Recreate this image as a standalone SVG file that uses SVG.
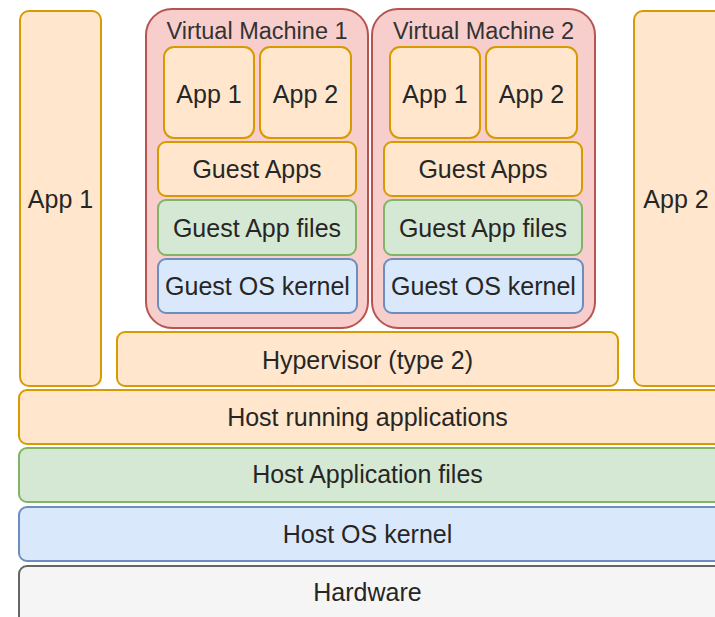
<svg xmlns="http://www.w3.org/2000/svg" width="715" height="617" viewBox="0 0 715 617">
  <style>
    rect { stroke-width: 2; }
    .orange { fill: #ffe6cc; stroke: #d79b00; }
    .green { fill: #d5e8d4; stroke: #82b366; }
    .blue { fill: #dae8fc; stroke: #6c8ebf; }
    .red { fill: #f8cecc; stroke: #b85450; }
    .gray { fill: #f5f5f5; stroke: #666666; }
    text { font-family: "Liberation Sans", Arial, sans-serif; font-size: 25px; fill: #262626; text-anchor: middle; }
    .title { font-size: 23.5px; fill: #333333; }
  </style>
  <rect width="715" height="617" fill="#ffffff" stroke="none"/>

  <!-- native apps on the host -->
  <g id="host-app1">
    <rect class="orange" x="20" y="11" width="81" height="375" rx="9"/>
    <text x="60.5" y="208">App 1</text>
  </g>
  <g id="host-app2">
    <rect class="orange" x="634" y="11" width="90" height="375" rx="9"/>
    <text x="676" y="208">App 2</text>
  </g>

  <!-- virtual machine 1 -->
  <g id="vm1">
    <rect class="red" x="146" y="9" width="222" height="319" rx="26"/>
    <text class="title" x="257" y="39">Virtual Machine 1</text>
  </g>
  <g id="vm1-app1">
    <rect class="orange" x="164" y="47" width="90" height="91" rx="10"/>
    <text x="209" y="103">App 1</text>
  </g>
  <g id="vm1-app2">
    <rect class="orange" x="260" y="47" width="91" height="91" rx="10"/>
    <text x="305.5" y="103">App 2</text>
  </g>
  <g id="vm1-guest-apps">
    <rect class="orange" x="158" y="142" width="198" height="54" rx="8"/>
    <text x="257" y="178">Guest Apps</text>
  </g>
  <g id="vm1-guest-files">
    <rect class="green" x="158" y="200" width="198" height="55" rx="8"/>
    <text x="257" y="237">Guest App files</text>
  </g>
  <g id="vm1-guest-kernel">
    <rect class="blue" x="158" y="259" width="199" height="54" rx="8"/>
    <text x="257.5" y="295">Guest OS kernel</text>
  </g>

  <!-- virtual machine 2 -->
  <g id="vm2">
    <rect class="red" x="372" y="9" width="223" height="319" rx="26"/>
    <text class="title" x="483.5" y="39">Virtual Machine 2</text>
  </g>
  <g id="vm2-app1">
    <rect class="orange" x="390" y="47" width="90" height="91" rx="10"/>
    <text x="435" y="103">App 1</text>
  </g>
  <g id="vm2-app2">
    <rect class="orange" x="486" y="47" width="91" height="91" rx="10"/>
    <text x="531.5" y="103">App 2</text>
  </g>
  <g id="vm2-guest-apps">
    <rect class="orange" x="384" y="142" width="198" height="54" rx="8"/>
    <text x="483" y="178">Guest Apps</text>
  </g>
  <g id="vm2-guest-files">
    <rect class="green" x="384" y="200" width="198" height="55" rx="8"/>
    <text x="483" y="237">Guest App files</text>
  </g>
  <g id="vm2-guest-kernel">
    <rect class="blue" x="384" y="259" width="199" height="54" rx="8"/>
    <text x="483.5" y="295">Guest OS kernel</text>
  </g>

  <!-- host stack -->
  <g id="hypervisor">
    <rect class="orange" x="117" y="332" width="501" height="54" rx="8"/>
    <text x="367.5" y="369">Hypervisor (type 2)</text>
  </g>
  <g id="host-running">
    <rect class="orange" x="19" y="390" width="705" height="54" rx="8"/>
    <text x="367.5" y="426">Host running applications</text>
  </g>
  <g id="host-files">
    <rect class="green" x="19" y="448" width="705" height="54" rx="8"/>
    <text x="367.5" y="483">Host Application files</text>
  </g>
  <g id="host-kernel">
    <rect class="blue" x="19" y="507" width="705" height="54" rx="8"/>
    <text x="367.5" y="543">Host OS kernel</text>
  </g>
  <g id="hardware">
    <rect class="gray" x="19" y="566" width="705" height="64" rx="8"/>
    <text x="367.5" y="601">Hardware</text>
  </g>

  <g id="connectors"></g>
</svg>
